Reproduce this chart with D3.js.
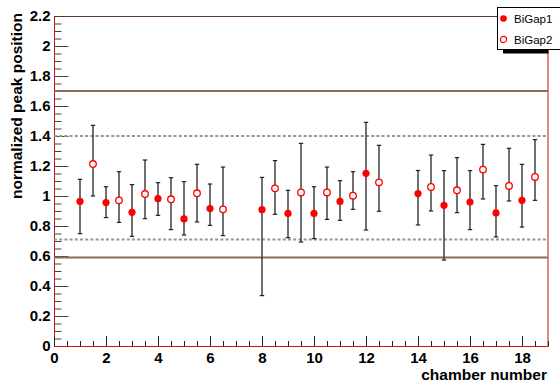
<!DOCTYPE html>
<html>
<head>
<meta charset="utf-8">
<script src="https://cdn.jsdelivr.net/npm/d3@7"></script>
<style>
  html, body { margin: 0; padding: 0; background: #fff; overflow: hidden; }
  svg { display: block; }
  text { font-family: "Liberation Sans", Arial, Helvetica, sans-serif; }
</style>
</head>
<body>
<svg id="chart" width="560" height="385"></svg>
<script>
// BiGap1: integer chamber positions
const pos1 = [1, 2, 3, 4, 5, 6, 8, 9, 10, 11, 12, 14, 15, 16, 17, 18];
const gap1 = [0.964, 0.956, 0.891, 0.982, 0.847, 0.916, 0.909, 0.884, 0.884, 0.964, 1.151, 1.016, 0.938, 0.960, 0.887, 0.971];
const gap1Hi = [1.111, 1.062, 1.076, 1.089, 1.096, 1.080, 1.124, 1.038, 1.062, 1.102, 1.491, 1.170, 1.169, 1.169, 1.069, 1.211];
const gap1Lo = [0.749, 0.856, 0.731, 0.871, 0.740, 0.804, 0.336, 0.722, 0.716, 0.838, 0.773, 0.807, 0.573, 0.776, 0.727, 0.793];

// BiGap2: half-integer chamber positions
const pos2 = [1.5, 2.5, 3.5, 4.5, 5.5, 6.5, 8.5, 9.5, 10.5, 11.5, 12.5, 14.5, 15.5, 16.5, 17.5, 18.5];
const gap2 = [1.213, 0.971, 1.013, 0.978, 1.018, 0.911, 1.051, 1.024, 1.024, 1.002, 1.091, 1.060, 1.038, 1.176, 1.067, 1.127];
const gap2Hi = [1.471, 1.162, 1.240, 1.122, 1.211, 1.193, 1.236, 1.351, 1.193, 1.162, 1.338, 1.273, 1.256, 1.344, 1.318, 1.376];
const gap2Lo = [1.000, 0.824, 0.849, 0.776, 0.827, 0.736, 0.878, 0.693, 0.844, 0.911, 0.898, 0.900, 0.889, 0.980, 0.967, 0.971];

// Reference bands
const outerLimits = [0.59, 1.7];
const innerLimits = [0.71, 1.4];
const topLine = [2.2];

// Axis ticks
const xTicks = [0, 2, 4, 6, 8, 10, 12, 14, 16, 18];
const xMinor = d3.range(0, 19.001, 0.5);
const yTicks = [0, 0.2, 0.4, 0.6, 0.8, 1, 1.2, 1.4, 1.6, 1.8, 2, 2.2];
const yMinor = d3.range(0, 2.2001, 0.05);
const seriesNames = ["BiGap1", "BiGap2"];

const svg = d3.select("#chart");
const plotL = 54, plotR = 548, plotT = 16, plotB = 346;

const x = d3.scaleLinear().domain([0, 19]).range([plotL, plotR]);
const y = d3.scaleLinear().domain([0, 2.2]).range([plotB, plotT]);

// Frame
svg.append("rect")
  .attr("x", plotL + 0.5).attr("y", plotT + 0.5)
  .attr("width", plotR - plotL - 0.5).attr("height", plotB - plotT)
  .attr("fill", "none").attr("stroke", "#cc1111").attr("stroke-width", 1);

// Minor ticks
svg.append("g").attr("transform", `translate(${plotL + 0.5},0)`)
  .call(d3.axisLeft(y).tickValues(yMinor).tickSize(-7).tickFormat(""))
  .call(g => g.select(".domain").remove())
  .call(g => g.selectAll("line").attr("stroke", "#444"));
svg.append("g").attr("transform", `translate(0,${plotB})`)
  .call(d3.axisBottom(x).tickValues(xMinor).tickSize(-5).tickFormat(""))
  .call(g => g.select(".domain").remove())
  .call(g => g.selectAll("line").attr("stroke", "#222"));

// Major ticks and labels
svg.append("g").attr("transform", `translate(${plotL + 0.5},0)`)
  .call(d3.axisLeft(y).tickValues(yTicks).tickSize(-14).tickPadding(4).tickFormat(d3.format("~g")))
  .call(g => g.select(".domain").remove())
  .call(g => g.selectAll("line").attr("stroke", "#444"))
  .call(g => g.selectAll("text").attr("font-size", 15).attr("font-weight", "bold")
    .attr("fill", "#000").attr("font-family", "Liberation Sans, Arial, sans-serif"));
svg.append("g").attr("transform", `translate(0,${plotB})`)
  .call(d3.axisBottom(x).tickValues(xTicks).tickSize(-10).tickPadding(6).tickFormat(d3.format("d")))
  .call(g => g.select(".domain").remove())
  .call(g => g.selectAll("line").attr("stroke", "#222"))
  .call(g => g.selectAll("text").attr("font-size", 15).attr("font-weight", "bold")
    .attr("fill", "#000").attr("font-family", "Liberation Sans, Arial, sans-serif"));

// Bottom axis line
svg.append("line")
  .attr("x1", plotL).attr("x2", plotR + 0.5).attr("y1", plotB + 0.5).attr("y2", plotB + 0.5)
  .attr("stroke", "#cc1111").attr("stroke-width", 1.2);

// Horizontal limit lines
svg.append("g").selectAll("line").data(topLine).join("line")
  .attr("x1", plotL).attr("x2", plotR).attr("y1", d => y(d) + 0.5).attr("y2", d => y(d) + 0.5)
  .attr("stroke", "#5a3a30").attr("stroke-width", 1.2);
svg.append("g").selectAll("line").data(outerLimits).join("line")
  .attr("x1", plotL).attr("x2", plotR).attr("y1", d => y(d)).attr("y2", d => y(d))
  .attr("stroke", "#8a6a5a").attr("stroke-width", 2);
svg.append("g").selectAll("line").data(innerLimits).join("line")
  .attr("x1", plotL).attr("x2", plotR).attr("y1", d => y(d)).attr("y2", d => y(d))
  .attr("stroke", "#86a08e").attr("stroke-width", 2).attr("stroke-dasharray", "3,2.2");

// Error bars and markers
function drawSeries(pos, val, hi, lo, filled) {
  const data = pos.map((p, i) => ({ p, v: val[i], hi: hi[i], lo: lo[i] }));
  const g = svg.append("g");
  const bars = g.selectAll("g.bar").data(data).join("g").attr("class", "bar");
  bars.append("line")
    .attr("x1", d => x(d.p)).attr("x2", d => x(d.p))
    .attr("y1", d => y(d.hi)).attr("y2", d => y(d.lo))
    .attr("stroke", "#333").attr("stroke-width", 1.4);
  bars.append("line")
    .attr("x1", d => x(d.p) - 2.2).attr("x2", d => x(d.p) + 2.2)
    .attr("y1", d => y(d.hi)).attr("y2", d => y(d.hi))
    .attr("stroke", "#222").attr("stroke-width", 1.2);
  bars.append("line")
    .attr("x1", d => x(d.p) - 2.2).attr("x2", d => x(d.p) + 2.2)
    .attr("y1", d => y(d.lo)).attr("y2", d => y(d.lo))
    .attr("stroke", "#222").attr("stroke-width", 1.2);
  g.selectAll("circle").data(data).join("circle")
    .attr("cx", d => x(d.p)).attr("cy", d => y(d.v))
    .attr("r", filled ? 3.6 : 3.3)
    .attr("fill", filled ? "#ff0000" : "#fff")
    .attr("stroke", "#ff0000").attr("stroke-width", filled ? 0 : 1.3);
}
drawSeries(pos1, gap1, gap1Hi, gap1Lo, true);
drawSeries(pos2, gap2, gap2Hi, gap2Lo, false);

// Axis titles
svg.append("text")
  .attr("transform", "translate(22,13) rotate(-90)")
  .attr("text-anchor", "end")
  .attr("font-size", 15.5).attr("font-weight", "bold")
  .text("normalized peak position");
svg.append("text")
  .attr("x", 547).attr("y", 380)
  .attr("text-anchor", "end")
  .attr("font-size", 15.5).attr("font-weight", "bold")
  .text("chamber number");

// Legend (box runs past the right edge of the canvas)
const legend = svg.append("g");
legend.append("rect")
  .attr("x", 503).attr("y", 49.5).attr("width", 45.5).attr("height", 4)
  .attr("fill", "#000");
legend.append("rect")
  .attr("x", 497.5).attr("y", 7.5).attr("width", 70).attr("height", 42)
  .attr("fill", "#fff").attr("stroke", "#000").attr("stroke-width", 1);
const legendRows = legend.selectAll("g.row").data(seriesNames).join("g").attr("class", "row")
  .attr("transform", (d, i) => `translate(0,${18.5 + i * 21})`);
legendRows.append("circle")
  .attr("cx", 503.5).attr("cy", 0)
  .attr("r", (d, i) => i === 0 ? 3.3 : 3.1)
  .attr("fill", (d, i) => i === 0 ? "#ff0000" : "#fff")
  .attr("stroke", "#ff0000").attr("stroke-width", (d, i) => i === 0 ? 0 : 1.2);
legendRows.append("text")
  .attr("x", 514).attr("y", 4.2)
  .attr("font-size", 11.5)
  .text(d => d);
</script>
</body>
</html>
